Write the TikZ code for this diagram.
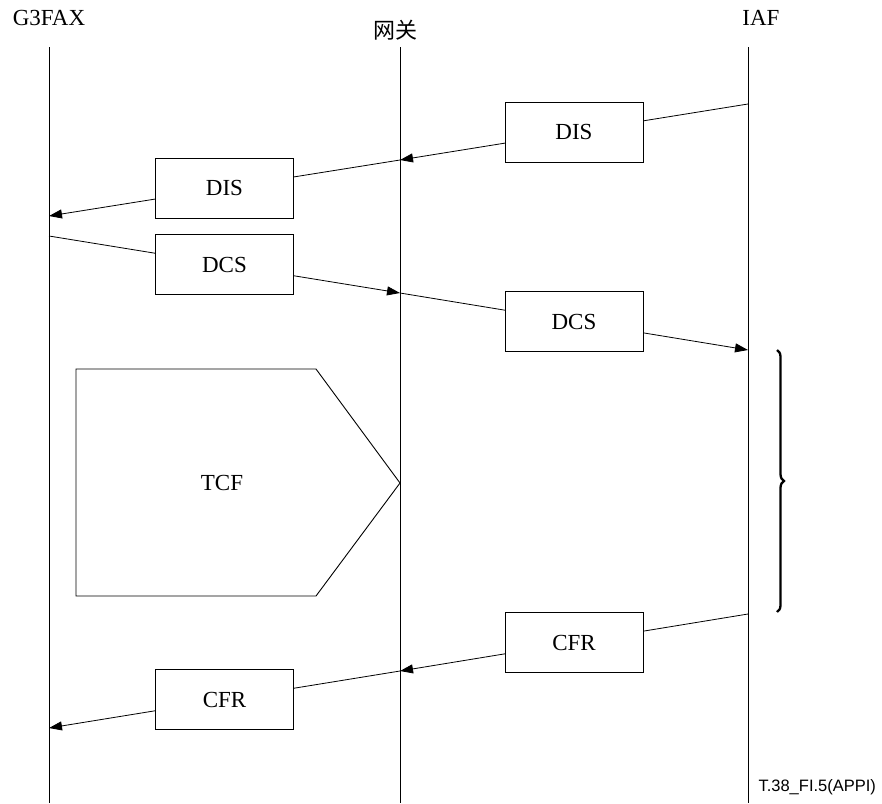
\documentclass[tikz,border=0pt]{standalone}
\usepackage{fontspec}
\setmainfont{Liberation Serif}
\newfontfamily\cjkfont{Noto Sans CJK SC}
\newfontfamily\notefont{Liberation Sans}
\usetikzlibrary{arrows.meta,calc,decorations.pathreplacing}

\tikzset{
  msgbox/.style={draw, fill=white, line width=0.9pt, minimum width=138pt, minimum height=60pt, inner sep=0pt, font=\fontsize{23}{27}\selectfont},
  msgline/.style={line width=0.8pt, -{Triangle[length=13pt,width=9pt]}},
  header/.style={font=\fontsize{23}{27}\selectfont}
}

\begin{document}
\begin{tikzpicture}[x=1pt,y=-1pt]
	\useasboundingbox (0,0) rectangle (882,803);
	
	% Headers
	\node[header] (g3fax) at (49,18) {G3FAX};
	\node[header, font=\cjkfont\fontsize{22}{26}\selectfont] (gw) at (395,30) {网关};
	\node[header] (iaf) at (761,18) {IAF};
	
	% Lifelines
	\foreach \x in {49,400,748}
	\draw[line width=0.8pt] (\x,47) -- (\x,803);
	
	% Points on the lifelines
	\coordinate (iafA) at (748,104);
	\coordinate (gwA) at (400,160);
	\coordinate (faxA) at (49,216);
	\coordinate (faxB) at (49,236);
	\coordinate (gwB) at (400,293);
	\coordinate (iafB) at (748,350);
	\coordinate (iafC) at (748,614);
	\coordinate (gwC) at (400,671);
	\coordinate (faxC) at (49,728);
	
	% DIS
	\draw[msgline] (iafA) -- (gwA);
	\draw[msgline] (gwA) -- (faxA);
	\node[msgbox] (dis1) at ($(iafA)!0.5!(gwA)$) {DIS};
	\node[msgbox] (dis2) at ($(gwA)!0.5!(faxA)$) {DIS};
	
	% DCS
	\draw[msgline] (faxB) -- (gwB);
	\draw[msgline] (gwB) -- (iafB);
	\node[msgbox] (dcs1) at ($(faxB)!0.5!(gwB)$) {DCS};
	\node[msgbox] (dcs2) at ($(gwB)!0.5!(iafB)$) {DCS};
	
	% TCF
	\draw[line width=0.9pt] (76,369) -- (316,369) -- (400,483) -- (316,596) -- (76,596) -- cycle;
	\node[header] (tcf) at (222,483) {TCF};
	
	% Brace
	\draw[decorate, decoration={brace, amplitude=7pt}, line width=2.3pt] (777,350) -- (777,612);
	
	% CFR
	\draw[msgline] (iafC) -- (gwC);
	\draw[msgline] (gwC) -- (faxC);
	\node[msgbox] (cfr1) at ($(iafC)!0.5!(gwC)$) {CFR};
	\node[msgbox] (cfr2) at ($(gwC)!0.5!(faxC)$) {CFR};
	
	% Figure number
	\node[font=\notefont\fontsize{16.5}{18}\selectfont, anchor=west] (fig) at (755,787) {T.38\_FI.5(APPI)};
\end{tikzpicture}
\end{document}
